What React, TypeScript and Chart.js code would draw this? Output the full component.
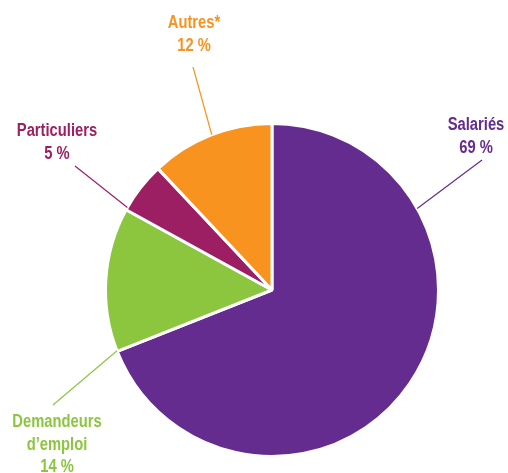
import React, { useEffect, useRef } from "react";
import { Chart, registerables } from "chart.js";

Chart.register(...registerables);

const categories = ["Salariés", "Demandeurs d’emploi", "Particuliers", "Autres*"];
const values = [69, 14, 5, 12];
const colors = ["#652c90", "#8cc63f", "#9d1f63", "#f7931e"];

// label text lines (from categories & values)
const labelLines = [
  ["Salariés", "69 %"],
  ["Demandeurs", "d’emploi", "14 %"],
  ["Particuliers", "5 %"],
  ["Autres*", "12 %"],
];
// layout of labels: text center x, first baseline y, leader outer end, leader angle on arc (deg clockwise from top)
const labelLayout = [
  { x: 476, y: 130, lx: 482, ly: 160, angle: 60.7 },
  { x: 57, y: 427, lx: 53, ly: 405, angle: 248.6 },
  { x: 57, y: 136, lx: 75, ly: 166, angle: 299.7 },
  { x: 194, y: 28, lx: 193, ly: 67, angle: 338.8 },
];

const labelPlugin = {
  id: "labels",
  afterDraw(chart: any) {
    const ctx = chart.ctx;
    const meta = chart.getDatasetMeta(0);
    ctx.save();
    meta.data.forEach((arc: any, i: number) => {
      const L = labelLayout[i];
      const a = (L.angle * Math.PI) / 180;
      const r = arc.outerRadius;
      const px = arc.x + r * Math.sin(a);
      const py = arc.y - r * Math.cos(a);
      ctx.strokeStyle = colors[i];
      ctx.lineWidth = 1.2;
      ctx.beginPath();
      ctx.moveTo(L.lx, L.ly);
      ctx.lineTo(px, py);
      ctx.stroke();
      ctx.fillStyle = colors[i];
      ctx.font = "bold 18px 'Liberation Sans', Arial, sans-serif";
      ctx.textAlign = "center";
      ctx.textBaseline = "alphabetic";
      labelLines[i].forEach((t, k) => {
        ctx.save();
        ctx.translate(L.x, L.y + k * 22.5);
        ctx.scale(0.82, 1);
        ctx.fillText(t, 0, 0);
        ctx.restore();
      });
    });
    ctx.restore();
  },
};

export default function App() {
  const ref = useRef<HTMLCanvasElement>(null);
  useEffect(() => {
    if (!ref.current) return;
    const chart = new Chart(ref.current, {
      type: "pie",
      data: {
        labels: categories,
        datasets: [
          {
            data: values,
            backgroundColor: colors,
            borderColor: "#ffffff",
            borderWidth: 3,
          },
        ],
      },
      options: {
        responsive: false,
        animation: false,
        layout: { padding: { top: 122, bottom: 15, left: 90, right: 54 } },
        plugins: { legend: { display: false }, tooltip: { enabled: false } },
      },
      plugins: [labelPlugin],
    });
    return () => chart.destroy();
  }, []);
  return (
    <div style={{ position: "absolute", left: 0, top: 0, width: 508, height: 473, background: "#fff" }}>
      <canvas ref={ref} width={508} height={473} style={{ width: 508, height: 473 }} />
    </div>
  );
}
